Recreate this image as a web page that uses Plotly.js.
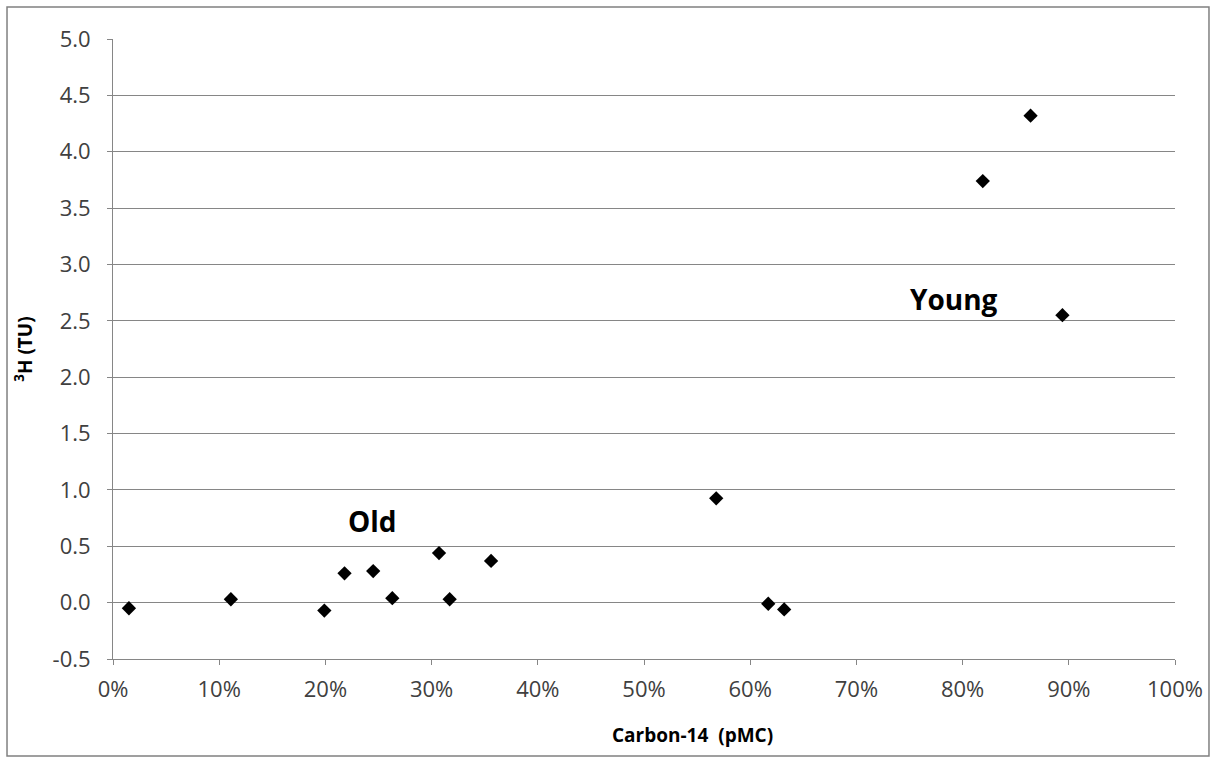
<!DOCTYPE html>
<html>
<head>
<meta charset="utf-8">
<script src="https://cdn.plot.ly/plotly-3.0.1.min.js"></script>
<style>html,body{margin:0;padding:0;background:#fff;}#chart{width:1216px;height:763px;}</style>
</head>
<body>
<div id="chart"></div>
<script>
// Carbon-14 (pMC, %) and tritium (TU) values
const carbon14 = [1.5, 11.1, 19.9, 21.8, 24.5, 26.3, 30.7, 31.7, 35.6, 56.8, 61.7, 63.2, 81.9, 86.4, 89.4];
const tritium  = [-0.05, 0.03, -0.07, 0.26, 0.28, 0.04, 0.44, 0.03, 0.37, 0.925, -0.01, -0.06, 3.74, 4.32, 2.55];
const xTicks = [0, 10, 20, 30, 40, 50, 60, 70, 80, 90, 100];
const yTicks = [-0.5, 0, 0.5, 1, 1.5, 2, 2.5, 3, 3.5, 4, 4.5, 5];
const labels = [
  {text: 'Old', x: 24.4, y: 0.72},
  {text: 'Young', x: 79.2, y: 2.69}
];
const xTitle = 'Carbon-14  (pMC)';
const yTitle = '<sup>3</sup>H (TU)';

const font = 'Open Sans, Noto Sans, sans-serif';
const trace = {
  x: carbon14, y: tritium, type: 'scatter', mode: 'markers',
  marker: {symbol: 'diamond', size: 11, color: '#000000'},
  hoverinfo: 'x+y'
};
const annotations = labels.map(l => ({
  text: '<b>' + l.text + '</b>', x: l.x, y: l.y, xref: 'x', yref: 'y',
  showarrow: false, font: {family: font, size: 28, color: '#000000'}
}));
annotations.push({
  text: '<b>' + xTitle + '</b>', xref: 'paper', yref: 'paper', x: 0.546, y: -0.1226,
  xanchor: 'center', yanchor: 'middle', showarrow: false,
  font: {family: font, size: 19, color: '#000000'}
});
const layout = {
  width: 1216, height: 763,
  margin: {l: 113, r: 41, t: 39, b: 104},
  paper_bgcolor: '#ffffff', plot_bgcolor: '#ffffff',
  showlegend: false,
  font: {family: font, color: '#404040', size: 22},
  xaxis: {
    range: [0, 100], tickvals: xTicks, ticktext: xTicks.map(v => v + '%'),
    showgrid: false, zeroline: false, showline: true, linecolor: '#868686', linewidth: 1,
    ticks: 'outside', ticklen: 5, tickcolor: '#868686', ticklabelstandoff: 6,
    tickfont: {family: font, size: 22, color: '#404040'}
  },
  yaxis: {
    range: [-0.5, 5], tickvals: yTicks, ticktext: yTicks.map(v => v.toFixed(1)),
    showgrid: true, gridcolor: '#868686', gridwidth: 1, zeroline: false,
    showline: true, linecolor: '#868686', linewidth: 1,
    ticks: 'outside', ticklen: 5, tickcolor: '#868686', ticklabelstandoff: 12,
    tickfont: {family: font, size: 22, color: '#404040'},
    title: {text: '<b>' + yTitle + '</b>', font: {family: font, size: 19, color: '#000000'}, standoff: 14}
  },
  annotations: annotations,
  shapes: [{
    type: 'rect', xref: 'paper', yref: 'paper',
    x0: -0.0998, x1: 1.0320, y0: -0.1565, y1: 1.0516,
    line: {color: '#808080', width: 1.5}, fillcolor: 'rgba(0,0,0,0)', layer: 'below'
  }]
};
Plotly.newPlot('chart', [trace], layout, {displayModeBar: false, staticPlot: true});
</script>
</body>
</html>
